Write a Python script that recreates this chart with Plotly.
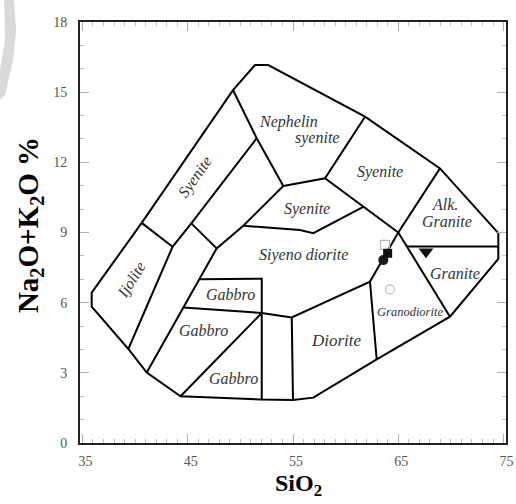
import plotly.graph_objects as go

# ---- Field boundaries (SiO2 wt%, Na2O+K2O wt%) ----
OUTER = [(35.88, 6.43), (40.63, 9.41), (49.30, 15.09), (51.39, 16.16), (52.65, 16.16),
         (61.84, 13.95), (68.96, 11.74), (74.50, 8.97), (74.50, 8.40), (74.50, 7.87),
         (69.91, 5.40), (62.95, 3.58), (56.93, 1.94), (55.00, 1.84), (52.03, 1.86),
         (44.32, 2.00), (41.11, 3.01), (39.36, 4.02), (35.88, 5.83), (35.88, 6.43)]
IJOLITE_TOP = [(40.63, 9.41), (43.56, 8.39)]
IJOLITE_RIGHT = [(39.36, 4.02), (43.56, 8.39), (45.34, 9.39), (51.55, 13.03)]
NEPH_LEFT = [(49.30, 15.09), (51.55, 13.03), (54.08, 10.99)]
GABBRO_EDGE = [(54.08, 10.99), (50.28, 9.29), (47.75, 8.32), (46.10, 7.00),
               (44.59, 5.79), (41.11, 3.01)]
BAND_SPLIT = [(45.34, 9.39), (47.75, 8.32)]
NEPH_BASE = [(54.08, 10.99), (58.04, 11.32), (61.84, 13.95)]
SYENITE_BASE = [(50.28, 9.29), (55.66, 9.11), (56.93, 8.97), (61.68, 10.10)]
SYENITE_RIGHT = [(58.04, 11.32), (61.68, 10.10), (65.00, 9.00)]
CENTRAL = [(68.96, 11.74), (65.00, 9.00), (62.31, 6.90), (54.88, 5.37),
           (52.03, 5.56), (44.59, 5.79)]
GRANITE_LEFT = [(65.00, 9.00), (65.82, 8.40), (69.91, 5.40)]
ALK_GRANITE_BASE = [(65.82, 8.40), (74.50, 8.40)]
GABBRO_BOX = [(46.10, 7.00), (52.03, 7.02), (52.03, 5.56), (52.03, 1.86)]
GABBRO_DIAG = [(52.03, 5.56), (44.32, 2.00)]
DIORITE_LEFT = [(54.88, 5.37), (55.00, 1.84)]
DIORITE_RIGHT = [(62.31, 6.90), (62.95, 3.58)]

BOUNDARIES = [OUTER, IJOLITE_TOP, IJOLITE_RIGHT, NEPH_LEFT, GABBRO_EDGE, BAND_SPLIT,
              NEPH_BASE, SYENITE_BASE, SYENITE_RIGHT, CENTRAL, GRANITE_LEFT,
              ALK_GRANITE_BASE, GABBRO_BOX, GABBRO_DIAG, DIORITE_LEFT, DIORITE_RIGHT]

# ---- Field names: (text, SiO2, alkalis, font size, angle) ----
FIELD_NAMES = [
    ("Syenite", 45.71, 11.38, 16, -55),
    ("Ijolite", 39.68, 6.97, 16, -58),
    ("Nephelin", 54.55, 13.74, 16, 0),
    ("syenite", 57.25, 13.03, 16, 0),
    ("Syenite", 63.26, 11.60, 16, 0),
    ("Syenite", 56.30, 9.99, 16, 0),
    ("Alk.", 69.45, 10.18, 16, 0),
    ("Granite", 69.60, 9.46, 16, 0),
    ("Siyeno diorite", 55.98, 8.04, 16, 0),
    ("Granite", 70.38, 7.23, 16, 0),
    ("Granodiorite", 66.11, 5.61, 12.5, 0),
    ("Diorite", 59.15, 4.40, 17, 0),
    ("Gabbro", 49.02, 6.37, 16, 0),
    ("Gabbro", 46.48, 4.80, 16, 0),
    ("Gabbro", 49.33, 2.74, 16, 0),
]

# ---- Samples ----
OPEN_SQUARE_SIO2, OPEN_SQUARE_ALK = [63.74], [8.47]
FILLED_SQUARE_SIO2, FILLED_SQUARE_ALK = [63.99], [8.11]
FILLED_CIRCLE_SIO2, FILLED_CIRCLE_ALK = [63.58], [7.82]
OPEN_CIRCLE_SIO2, OPEN_CIRCLE_ALK = [64.21], [6.57]
TRIANGLE_SIO2, TRIANGLE_ALK = [67.63], [8.18]

X_TICKS = [35, 45, 55, 65, 75]
Y_TICKS = [0, 3, 6, 9, 12, 15, 18]

SERIF = "Liberation Serif, Times New Roman, serif"

fig = go.Figure()

for line in BOUNDARIES:
    fig.add_trace(go.Scatter(
        x=[p[0] for p in line], y=[p[1] for p in line], mode="lines",
        line=dict(color="black", width=2), hoverinfo="skip", showlegend=False))

fig.add_trace(go.Scatter(x=OPEN_SQUARE_SIO2, y=OPEN_SQUARE_ALK, mode="markers",
                         marker=dict(symbol="square-open", size=9, color="#b8b8b8",
                                     line=dict(width=1.2)), showlegend=False))
fig.add_trace(go.Scatter(x=OPEN_CIRCLE_SIO2, y=OPEN_CIRCLE_ALK, mode="markers",
                         marker=dict(symbol="circle-open", size=9, color="#bdbdbd",
                                     line=dict(width=1.2)), showlegend=False))
fig.add_trace(go.Scatter(x=FILLED_CIRCLE_SIO2, y=FILLED_CIRCLE_ALK, mode="markers",
                         marker=dict(symbol="circle", size=10, color="#1a1a1a"),
                         showlegend=False))
fig.add_trace(go.Scatter(x=FILLED_SQUARE_SIO2, y=FILLED_SQUARE_ALK, mode="markers",
                         marker=dict(symbol="square", size=9, color="#111111"),
                         showlegend=False))
fig.add_trace(go.Scatter(x=TRIANGLE_SIO2, y=TRIANGLE_ALK, mode="markers",
                         marker=dict(symbol="triangle-down", size=13, color="#111111"),
                         showlegend=False))

for text, sx, ay, size, angle in FIELD_NAMES:
    fig.add_annotation(x=sx, y=ay, text=f"<i>{text}</i>", showarrow=False,
                       textangle=angle,
                       font=dict(family=SERIF, size=size, color="#333333"))

# axis titles
fig.add_annotation(x=0.512, y=-0.100, xref="paper", yref="paper",
                   xanchor="center", yanchor="middle",
                   text="<b>SiO<sub>2</sub></b>", showarrow=False,
                   font=dict(family=SERIF, size=24, color="black"))
fig.add_annotation(x=-0.117, y=0.518, xref="paper", yref="paper",
                   xanchor="center", yanchor="middle",
                   text="<b>Na<sub>2</sub>O+K<sub>2</sub>O %</b>", showarrow=False,
                   textangle=-90, font=dict(family=SERIF, size=29, color="black"))

# faint grey stroke in the upper-left corner
fig.add_shape(type="path", xref="paper", yref="paper",
              path="M -0.178,1.052 L -0.155,1.052 L -0.150,0.981 L -0.157,0.910 "
                   "L -0.176,0.827 L -0.188,0.815 L -0.188,0.886 L -0.176,0.957 Z",
              fillcolor="#d9d9d9", line=dict(width=0), layer="below")

axis_common = dict(
    showgrid=False, zeroline=False, showline=True, linecolor="#222222", linewidth=2,
    mirror="allticks", ticks="inside", ticklen=9, tickcolor="#b0b0b0", tickwidth=1,
    tickfont=dict(family=SERIF, size=14, color="#555555"), automargin=False,
)

fig.update_xaxes(range=[34.77, 75.23], tickvals=X_TICKS, ticklabelshift=3,
                 ticklabelstandoff=4,
                 minor=dict(dtick=1, ticks="inside", ticklen=4, tickcolor="#c0c0c0"),
                 **axis_common)
fig.update_yaxes(range=[0, 18], tickvals=Y_TICKS, ticklabelstandoff=8,
                 minor=dict(dtick=1, ticks="inside", ticklen=4, tickcolor="#c0c0c0"),
                 **axis_common)

fig.update_layout(
    width=516, height=504,
    margin=dict(l=80, r=10, t=22, b=61),
    paper_bgcolor="white", plot_bgcolor="white",
    showlegend=False,
)

fig.write_html("out.html")
